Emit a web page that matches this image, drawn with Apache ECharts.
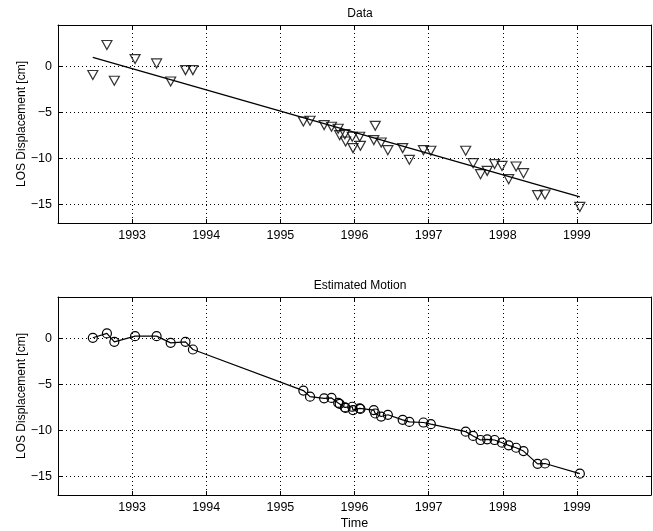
<!DOCTYPE html>
<html>
<head>
<meta charset="utf-8">
<script src="https://cdn.jsdelivr.net/npm/echarts@6/dist/echarts.min.js"></script>
<style>
  html, body { margin: 0; padding: 0; background: #fff; }
  #chart { width: 653px; height: 531px; }
</style>
</head>
<body>
<div id="chart"></div>
<script>
// acquisition times (decimal year)
const dates = [1992.47, 1992.66, 1992.76, 1993.04, 1993.33, 1993.52, 1993.72, 1993.82,
  1995.31, 1995.40, 1995.59, 1995.69, 1995.78, 1995.80, 1995.87, 1995.88, 1995.97, 1995.98,
  1996.07, 1996.08, 1996.26, 1996.28, 1996.36, 1996.45, 1996.65, 1996.74, 1996.93, 1997.03,
  1997.50, 1997.60, 1997.70, 1997.79, 1997.89, 1997.99, 1998.08, 1998.18, 1998.28, 1998.47,
  1998.57, 1999.04]

// measured LOS displacement [cm]
const losData = [-0.93, 2.33, -1.55, 0.80, 0.33, -1.63, -0.40, -0.40,
  -5.98, -5.90, -6.37, -6.55, -6.77, -7.46, -7.35, -8.15, -7.64, -8.87,
  -7.64, -8.62, -8.00, -6.45, -8.26, -9.09, -8.87, -10.14, -9.09, -9.16,
  -9.16, -10.50, -11.70, -11.34, -10.60, -10.80, -12.24, -10.87, -11.59, -13.98,
  -13.90, -15.25]

// estimated motion [cm]
const losEstimated = [0.07, 0.55, -0.37, 0.25, 0.25, -0.48, -0.37, -1.20,
  -5.66, -6.32, -6.50, -6.46, -7.00, -7.10, -7.49, -7.55, -7.42, -7.78,
  -7.60, -7.65, -7.78, -8.15, -8.48, -8.29, -8.84, -9.06, -9.13, -9.31,
  -10.12, -10.59, -11.03, -10.95, -11.03, -11.32, -11.61, -11.87, -12.23, -13.62,
  -13.58, -14.68]

// linear fit through the data
const fitX = [1992.47, 1999.04]
const fitY = [0.98, -14.16]

const dispTicks = [-15, -10, -5, 0]

const FONT = 'Liberation Sans, Arial, sans-serif'

function zip(xs, ys) {
  return xs.map((x, i) => [x, ys[i]])
}

function xAxisFor(gridIndex, top, withName) {
  return {
    type: 'value',
    gridIndex: gridIndex,
    position: top ? 'top' : 'bottom',
    min: 1992,
    max: 2000,
    interval: 1,
    name: withName ? 'Time' : '',
    nameLocation: 'middle',
    nameGap: 22,
    nameTextStyle: { color: '#000', fontFamily: FONT, fontSize: 12.5 },
    axisLine: { show: true, onZero: false, lineStyle: { color: '#000', width: 1 } },
    axisTick: { show: true, inside: true, length: 4, lineStyle: { color: '#000' } },
    axisLabel: {
      show: !top,
      color: '#000',
      fontFamily: FONT,
      fontSize: 12.5,
      margin: 6,
      showMinLabel: false,
      showMaxLabel: false,
      formatter: v => String(v)
    },
    splitLine: {
      show: !top,
      lineStyle: { color: '#000', width: 1, type: [1, 3] }
    }
  }
}

function yAxisFor(gridIndex, right) {
  return {
    type: 'value',
    gridIndex: gridIndex,
    position: right ? 'right' : 'left',
    min: -17,
    max: 4.5,
    name: right ? '' : 'LOS Displacement [cm]',
    nameLocation: 'middle',
    nameGap: 30,
    nameMoveOverlap: false,
    nameTextStyle: { color: '#000', fontFamily: FONT, fontSize: 12 },
    axisLine: { show: true, onZero: false, lineStyle: { color: '#000', width: 1 } },
    axisTick: { show: true, inside: true, length: 4, customValues: dispTicks, lineStyle: { color: '#000' } },
    axisLabel: {
      show: !right,
      customValues: dispTicks,
      color: '#000',
      fontFamily: FONT,
      fontSize: 12.5,
      margin: 6,
      formatter: v => (v < 0 ? '\u2212' + Math.abs(v) : String(v))
    },
    splitLine: {
      show: !right,
      lineStyle: { color: '#000', width: 1, type: [1, 3] }
    }
  }
}

const chart = echarts.init(document.getElementById('chart'), null, { renderer: 'canvas' })

const option = {
  animation: false,
  backgroundColor: '#fff',
  title: [
    {
      text: 'Data', left: 355, top: 3, textAlign: 'center',
      textStyle: { color: '#000', fontFamily: FONT, fontSize: 12, fontWeight: 'normal' }
    },
    {
      text: 'Estimated Motion', left: 355, top: 275, textAlign: 'center',
      textStyle: { color: '#000', fontFamily: FONT, fontSize: 12, fontWeight: 'normal' }
    }
  ],
  grid: [
    { left: 58, right: 2, top: 25, height: 198 },
    { left: 58, right: 2, top: 297, height: 198 }
  ],
  xAxis: [xAxisFor(0, false, false), xAxisFor(0, true, false), xAxisFor(1, false, true), xAxisFor(1, true, false)],
  yAxis: [yAxisFor(0, false), yAxisFor(0, true), yAxisFor(1, false), yAxisFor(1, true)],
  series: [
    {
      name: 'fit',
      type: 'line',
      xAxisIndex: 0,
      yAxisIndex: 0,
      data: zip(fitX, fitY),
      showSymbol: false,
      lineStyle: { color: '#000', width: 1.3 },
      silent: true
    },
    {
      name: 'data',
      type: 'scatter',
      xAxisIndex: 0,
      yAxisIndex: 0,
      data: zip(dates, losData),
      symbol: 'triangle',
      symbolRotate: 180,
      symbolSize: [10, 9],
      itemStyle: { color: 'rgba(0,0,0,0)', borderColor: '#000', borderWidth: 1.2 },
      silent: true
    },
    {
      name: 'estimated',
      type: 'line',
      xAxisIndex: 2,
      yAxisIndex: 2,
      data: zip(dates, losEstimated),
      symbol: 'circle',
      symbolSize: 9,
      showAllSymbol: true,
      lineStyle: { color: '#000', width: 1.2 },
      itemStyle: { color: 'rgba(0,0,0,0)', borderColor: '#000', borderWidth: 1.2 },
      silent: true
    }
  ]
}

chart.setOption(option)
window.onresize = function () {
  chart.resize()
}
</script>
</body>
</html>
